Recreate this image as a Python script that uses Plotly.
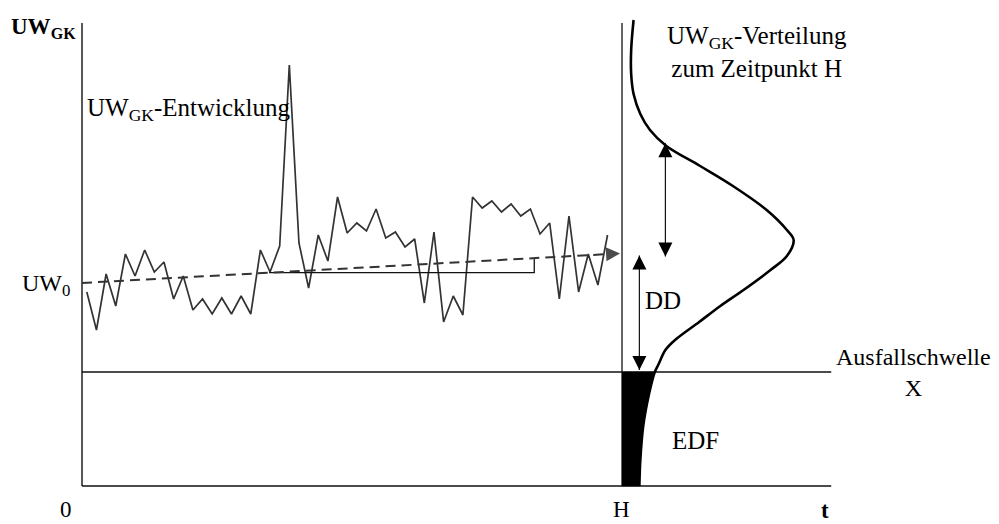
import numpy as np
import plotly.graph_objects as go

# ---------------- data ----------------
# simulated development of the enterprise value UW_GK over time
uw_path = [97, 78, 106, 90, 116, 105, 118, 107, 112, 93.5,
           105, 88, 93.5, 86, 94, 86, 95, 86, 118, 107,
           120, 210.5, 121.5, 99, 125.5, 112.5, 144.5, 126.5, 131.5, 127.5,
           138.5, 124, 127, 119.5, 123.5, 91.5, 127, 82, 95, 85.5,
           144.5, 139, 142.5, 137, 141, 135, 138.5, 126, 131.5, 93.5,
           135, 97, 116, 100.5, 125.5]
t_path = [i + 0.5 for i in range(len(uw_path))]

UW0 = 101.5          # starting value
X_threshold = 57     # default threshold (Ausfallschwelle)
H = 56               # horizon
t_end = 77.7         # end of time axis
uw_top = 231.5       # top of value axis

trend_t = [0, 55.8]          # expected development (dashed)
trend_uw = [UW0, 116.3]
slope_t = [19.4, 46.9]       # drift triangle

# distribution of UW_GK at time H (density drawn sideways from H)
dist_uw = [233, 218, 206, 196, 186, 178, 170, 160, 150, 138, 128, 123,
           115, 108, 98, 90, 82, 73, 68, 61, 57, 46, 30, 13, 0]
dist_density = [1.2, 0.95, 0.95, 1.2, 1.9, 2.9, 4.6, 8.1, 11.5, 15.0, 17.1, 17.8,
                17.1, 15.4, 12.6, 10.2, 8.0, 5.5, 4.5, 3.8, 3.4, 2.8, 2.2, 1.9, 1.8]

EV_H = 115.2                 # expected value at H
dd_t = 57.8                  # distance-to-default arrow
sd_t = 60.5                  # arrow to distribution
sd_top = 171.4

# ---------------- figure ----------------
LINE = "#111111"
GREY = "#333333"
fig = go.Figure()

def line(x, y, width=1.3, color=LINE, dash=None, shape="linear"):
    fig.add_trace(go.Scatter(x=x, y=y, mode="lines",
                             line=dict(color=color, width=width, dash=dash, shape=shape),
                             hoverinfo="skip", showlegend=False))

# axes and threshold
line([0, 0], [0, uw_top], 1.4)
line([0, t_end], [0, 0], 1.6)
line([0, t_end], [X_threshold, X_threshold], 1.3)
line([H, H], [0, uw_top], 1.3)

# EDF area
edf_uw = [u for u in dist_uw if u <= X_threshold]
edf_d = [d for u, d in zip(dist_uw, dist_density) if u <= X_threshold]
fig.add_trace(go.Scatter(
    x=[H] + [H + d for d in edf_d] + [H],
    y=[X_threshold] + edf_uw + [0],
    mode="lines", fill="toself", fillcolor="black",
    line=dict(color="black", width=0.5), hoverinfo="skip", showlegend=False))

# path
line(t_path, uw_path, 1.7, GREY)

# drift triangle
slope_uw = list(np.interp(slope_t, trend_t, trend_uw))
line([slope_t[0], slope_t[1], slope_t[1]], [slope_uw[0], slope_uw[0], slope_uw[1]], 1.3)

# dashed expected development with arrowhead
fig.add_trace(go.Scatter(
    x=trend_t, y=trend_uw, mode="lines+markers",
    line=dict(color=GREY, width=2, dash="10px,6px"),
    marker=dict(symbol="arrow-up", size=[0, 14], angleref="previous",
                color="black", line=dict(width=0)),
    hoverinfo="skip", showlegend=False))

# distribution curve
line([H + d for d in dist_density], dist_uw, 2.6, "black", shape="spline")

# double arrows
for xa, top, bot in [(dd_t, EV_H, X_threshold + 1), (sd_t, sd_top, EV_H - 0.5)]:
    fig.add_trace(go.Scatter(
        x=[xa, xa], y=[top, bot], mode="lines+markers",
        line=dict(color=LINE, width=1.2),
        marker=dict(symbol=["arrow-up", "arrow-down"], size=14,
                    color="black", line=dict(width=0)),
        hoverinfo="skip", showlegend=False))

SERIF = "Liberation Serif"

def label(x, y, text, size=25, xanchor="center", yanchor="middle", bold=False):
    fig.add_annotation(x=x, y=y, xref="x", yref="y", text=text, showarrow=False,
                       xanchor=xanchor, yanchor=yanchor, align="center",
                       font=dict(family=SERIF, size=size, color="black",
                                 weight="bold" if bold else "normal"))

label(-7.6, 229, "UW<sub>GK</sub>", size=23, xanchor="left", bold=True)
label(-1.0, UW0 - 1, "UW<sub>0</sub>", size=24, xanchor="right")
label(0.3, 188.5, "UW<sub>GK</sub>-Entwicklung", size=25, xanchor="left")
label(70.0, 217, "UW<sub>GK</sub>-Verteilung<br>zum Zeitpunkt H", size=25)
label(60.3, 93, "DD", size=25)
label(63.6, 23, "EDF", size=25)
label(86.2, X_threshold, "Ausfallschwelle<br>X", size=24)
label(-1.65, -11.5, "0", size=23)
label(H - 0.1, -11.5, "H", size=23)
label(77.1, -12, "t", size=23, bold=True)

# the page adds an 8px body margin, so the figure is 8px smaller and ranges shifted
PX = 9.643   # pixels per time unit
fig.update_layout(
    width=991, height=516,
    margin=dict(l=0, r=0, t=0, b=0),
    paper_bgcolor="white", plot_bgcolor="white",
    xaxis=dict(range=[-74 / PX, 917 / PX], visible=False, fixedrange=True),
    yaxis=dict(range=[-19, 239], visible=False, fixedrange=True),
    showlegend=False,
)

fig.write_html("out.html")
